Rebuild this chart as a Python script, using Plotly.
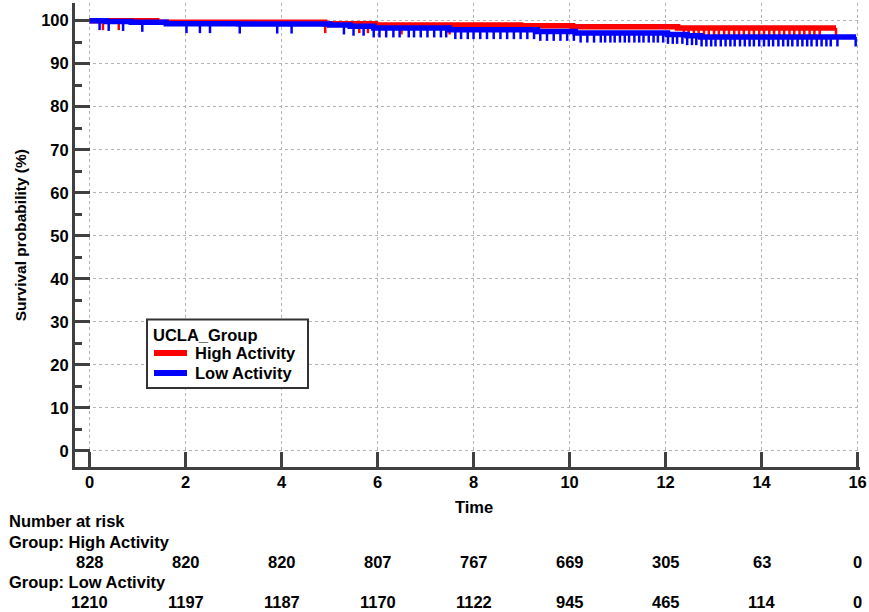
import bisect
import plotly.graph_objects as go

# ---------------- data ----------------
high_time = [0, 1.4, 4.9, 5.95, 8.98, 10.06, 12.25, 15.55]
high_surv = [100, 99.6, 99.3, 99.0, 98.8, 98.6, 98.3, 98.3]
low_time = [0, 0.35, 0.87, 1.6, 3.1, 5.0, 5.43, 5.92, 7.5, 9.33, 10.12, 12.04, 12.45, 12.73, 15.97]
low_surv = [100, 99.8, 99.6, 99.3, 99.2, 99.0, 98.7, 98.3, 97.9, 97.5, 97.1, 96.8, 96.5, 96.2, 96.2]

high_censor = [0.28, 0.61, 4.91, 5.62, 5.80, 6.50, 7.50,
               12.38, 12.48, 12.59, 12.69, 12.80, 12.90, 13.01, 13.11, 13.22, 13.32,
               13.43, 13.53, 13.63, 13.74, 13.84, 13.95, 14.05, 14.16, 14.26, 14.37,
               14.47, 14.58, 14.68, 14.79, 14.89, 15.00, 15.10, 15.21, 15.55]
low_censor = [0.21, 0.40, 0.70, 1.10, 2.02, 2.30, 2.51, 3.13, 3.91, 4.21, 5.30, 5.50,
              5.71, 5.92, 6.04, 6.18, 6.33, 6.46, 6.65, 6.76, 6.90, 7.04, 7.18, 7.32,
              7.43, 7.62, 7.74, 7.88, 8.00, 8.14, 8.28, 8.42, 8.56, 8.70, 8.84, 8.98,
              9.12, 9.26, 9.39, 9.53, 9.67, 9.81, 9.95, 10.09, 10.23, 10.37, 10.51, 10.65,
              10.74, 10.85, 10.94, 11.05, 11.15, 11.24, 11.35, 11.45, 11.54, 11.65, 11.75,
              11.84, 11.95, 12.05, 12.15, 12.24, 12.35, 12.45, 12.55, 12.64, 12.75, 12.85,
              12.95, 13.04, 13.15, 13.25, 13.35, 13.44, 13.55, 13.65, 13.75, 13.84, 13.95,
              14.05, 14.15, 14.24, 14.35, 14.45, 14.55, 14.64, 14.75, 14.85, 14.95, 15.04,
              15.15, 15.25, 15.35, 15.44, 15.58, 15.96]

risk_times = [0, 2, 4, 6, 8, 10, 12, 14, 16]
high_risk = [828, 820, 820, 807, 767, 669, 305, 63, 0]
low_risk = [1210, 1197, 1187, 1170, 1122, 945, 465, 114, 0]

x_ticks = [0, 2, 4, 6, 8, 10, 12, 14, 16]
y_ticks = [0, 10, 20, 30, 40, 50, 60, 70, 80, 90, 100]

group_title = "UCLA_Group"
names = ["High Activity", "Low Activity"]
colors = ["#ff0000", "#0000ff"]

# ---------------- style ----------------
FONT = "Liberation Sans, Arial, sans-serif"
FS = 16.5
AXC = "#404040"
TICK_DROP = 2.2  # censor tick length in y units

W, H = 869, 612
PLOT_LEFT, PLOT_RIGHT = 75, 860
PLOT_TOP, PLOT_BOTTOM = 3, 467
PW = PLOT_RIGHT - PLOT_LEFT
PH = PLOT_BOTTOM - PLOT_TOP


def xpaper(px):
    return (px - PLOT_LEFT) / PW


def ypaper(py):
    return (PLOT_BOTTOM - py) / PH


def step_value(times, surv, t):
    i = bisect.bisect_right(times, t) - 1
    return surv[max(i, 0)]


def censor_segments(times, surv, cens):
    xs, ys = [], []
    for t in cens:
        s = step_value(times, surv, t)
        xs += [t, t, None]
        ys += [s, s - TICK_DROP, None]
    return xs, ys


fig = go.Figure()

groups = [(high_time, high_surv, high_censor), (low_time, low_surv, low_censor)]
for (tt, ss, cc), nm, col in zip(groups, names, colors):
    fig.add_trace(go.Scatter(x=tt, y=ss, mode="lines", name=nm,
                             line=dict(color=col, width=5.5, shape="hv"),
                             showlegend=False, hoverinfo="skip"))
    cx, cy = censor_segments(tt, ss, cc)
    fig.add_trace(go.Scatter(x=cx, y=cy, mode="lines", line=dict(color=col, width=2.5),
                             showlegend=False, hoverinfo="skip"))

ann = []
shapes = []

# x-axis title
ann.append(dict(x=8, y=ypaper(507), xref="x", yref="paper", text="<b>Time</b>", showarrow=False,
                xanchor="center", yanchor="middle", font=dict(family=FONT, size=FS, color="black")))
# y-axis title
ann.append(dict(x=xpaper(20.5), y=50, xref="paper", yref="y", text="<b>Survival probability (%)</b>",
                showarrow=False, textangle=-90, xanchor="center", yanchor="middle",
                font=dict(family=FONT, size=15.5, color="black")))

# risk table
for txt, py in [("Number at risk", 521), ("Group: " + names[0], 541.5), ("Group: " + names[1], 581.5)]:
    ann.append(dict(x=xpaper(7), y=ypaper(py), xref="paper", yref="paper", text="<b>%s</b>" % txt,
                    showarrow=False, xanchor="left", yanchor="middle",
                    font=dict(family=FONT, size=FS, color="black")))
for vals, py in [(high_risk, 561.5), (low_risk, 601.5)]:
    for t, v in zip(risk_times, vals):
        ann.append(dict(x=t, y=ypaper(py), xref="x", yref="paper", text="<b>%d</b>" % v,
                        showarrow=False, xanchor="center", yanchor="middle",
                        font=dict(family=FONT, size=FS, color="black")))

# legend box (drawn by hand to match the reference layout)
shapes.append(dict(type="rect", xref="paper", yref="paper",
                   x0=xpaper(147), x1=xpaper(308), y0=ypaper(388), y1=ypaper(319.5),
                   line=dict(color="#333333", width=2), fillcolor="white", layer="above"))
ann.append(dict(x=xpaper(151), y=ypaper(334.5), xref="paper", yref="paper",
                text="<b>%s</b>" % group_title, showarrow=False, xanchor="left", yanchor="middle",
                font=dict(family=FONT, size=FS, color="black")))
for nm, col, py in zip(names, colors, [353, 373]):
    shapes.append(dict(type="line", xref="paper", yref="paper",
                       x0=xpaper(154), x1=xpaper(187), y0=ypaper(py), y1=ypaper(py),
                       line=dict(color=col, width=6), layer="above"))
    ann.append(dict(x=xpaper(193), y=ypaper(py), xref="paper", yref="paper",
                    text="<b>%s</b>" % nm, showarrow=False, xanchor="left", yanchor="middle",
                    font=dict(family=FONT, size=FS, color="black")))

axis_common = dict(showline=True, linecolor=AXC, linewidth=3, ticks="inside", ticklen=15,
                   tickwidth=2.5, tickcolor=AXC, mirror=False, zeroline=False,
                   showgrid=True, gridcolor="#b4b4b4", gridwidth=1, griddash="dot",
                   tickfont=dict(family=FONT, size=FS, color="black", weight="bold"))

fig.update_layout(
    width=W, height=H,
    margin=dict(l=PLOT_LEFT, r=W - PLOT_RIGHT, t=PLOT_TOP, b=H - PLOT_BOTTOM, pad=0),
    paper_bgcolor="white", plot_bgcolor="white",
    xaxis=dict(range=[-0.302, 16.05], tickvals=x_ticks, ticktext=[str(v) for v in x_ticks],
               ticklabelstandoff=-2, **axis_common),
    yaxis=dict(range=[-3.72, 104.1], tickvals=y_ticks, ticktext=[str(v) for v in y_ticks],
               minor=dict(ticks="inside", ticklen=7, tickwidth=2.5, tickcolor=AXC, dtick=5, tick0=0,
                          showgrid=False),
               **axis_common),
    annotations=ann,
    shapes=shapes,
    showlegend=False,
)

fig.write_html("out.html", config={"displayModeBar": False},
               post_script="document.body.style.margin='0';document.body.style.padding='0';")
